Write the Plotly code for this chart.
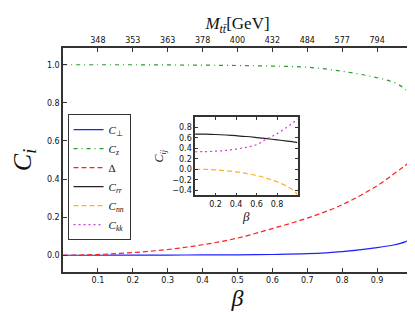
import plotly.graph_objects as go

beta = [0.0, 0.1, 0.2, 0.3, 0.4, 0.5, 0.6, 0.7, 0.8, 0.9, 0.95, 0.98, 1.0]
C_perp = [0.0, 0.0, 0.0005, 0.001, 0.0015, 0.002, 0.004, 0.008, 0.019, 0.04, 0.055, 0.07, 0.092]
C_z = [1.0, 1.0, 1.0, 0.999, 0.998, 0.996, 0.993, 0.987, 0.966, 0.932, 0.906, 0.872, 0.83]
Delta = [0.0, 0.004, 0.014, 0.03, 0.055, 0.09, 0.14, 0.195, 0.265, 0.365, 0.43, 0.47, 0.5]
C_rr = [0.673, 0.671, 0.665, 0.655, 0.642, 0.627, 0.607, 0.585, 0.563, 0.54, 0.527, 0.518, 0.51]
C_nn = [0.0, -0.003, -0.012, -0.028, -0.05, -0.08, -0.12, -0.175, -0.24, -0.33, -0.39, -0.44, -0.49]
C_kk = [0.335, 0.337, 0.345, 0.36, 0.385, 0.42, 0.47, 0.58, 0.68, 0.81, 0.88, 0.93, 0.96]

bottom_ticks = [0.1, 0.2, 0.3, 0.4, 0.5, 0.6, 0.7, 0.8, 0.9]
bottom_labels = ["0.1", "0.2", "0.3", "0.4", "0.5", "0.6", "0.7", "0.8", "0.9"]
top_labels = ["348", "353", "363", "378", "400", "432", "484", "577", "794"]
y_ticks = [0.0, 0.2, 0.4, 0.6, 0.8, 1.0]
y_labels = ["0.0", "0.2", "0.4", "0.6", "0.8", "1.0"]
inset_x_ticks = [0.2, 0.4, 0.6, 0.8]
inset_x_labels = ["0.2", "0.4", "0.6", "0.8"]
inset_y_ticks = [-0.4, -0.2, 0.0, 0.2, 0.4, 0.6, 0.8]
inset_y_labels = ["−0.4", "−0.2", "0.0", "0.2", "0.4", "0.6", "0.8"]

serif = "Liberation Serif"
sans = "DejaVu Sans"

fig = go.Figure()
fig.add_trace(go.Scatter(x=beta, y=C_perp, mode="lines", line=dict(color="#2020ff", width=1.2, shape="spline"),
                         name="<i>C</i><sub>⊥</sub>"))
fig.add_trace(go.Scatter(x=beta, y=C_z, mode="lines", line=dict(color="#2e9a2e", width=1.2, dash="4px,4px,1px,4px", shape="spline"),
                         name="<i>C</i><sub><i>z</i></sub>"))
fig.add_trace(go.Scatter(x=beta, y=Delta, mode="lines", line=dict(color="#ff2020", width=1.2, dash="5px,3px", shape="spline"),
                         name="Δ"))
fig.add_trace(go.Scatter(x=beta, y=C_rr, mode="lines", xaxis="x3", yaxis="y3",
                         line=dict(color="#222222", width=1.2, shape="spline"),
                         name="<i>C</i><sub><i>rr</i></sub>"))
fig.add_trace(go.Scatter(x=beta, y=C_nn, mode="lines", xaxis="x3", yaxis="y3",
                         line=dict(color="#ffb020", width=1.2, dash="5px,3px", shape="spline"),
                         name="<i>C</i><sub><i>nn</i></sub>"))
fig.add_trace(go.Scatter(x=beta, y=C_kk, mode="lines", xaxis="x3", yaxis="y3",
                         line=dict(color="#d040d0", width=1.2, dash="2px,3px", shape="spline"),
                         name="<i>C</i><sub><i>kk</i></sub>"))
# invisible trace to activate top axis
fig.add_trace(go.Scatter(x=[0, 1], y=[0, 0], xaxis="x2", mode="lines", line=dict(width=0),
                         showlegend=False, hoverinfo="skip", opacity=0))

axis_common = dict(showgrid=False, zeroline=False, showline=True, linecolor="#333333", linewidth=1.5,
                   ticks="inside", ticklen=4, tickcolor="#333333", tickfont=dict(family=sans, size=8, color="#111"))

fig.update_layout(
    width=415, height=312,
    margin=dict(l=52, r=9, t=40, b=48),
    paper_bgcolor="white", plot_bgcolor="white",
    font=dict(color="#111111", family=serif),
    xaxis=dict(axis_common, range=[0, 1], tickvals=bottom_ticks, ticktext=bottom_labels, mirror=True,
               title=dict(text="<i>β</i>", font=dict(family=serif, size=24, color="#111"), standoff=4)),
    xaxis2=dict(axis_common, range=[0, 1], overlaying="x", side="top", tickvals=bottom_ticks, ticktext=top_labels,
                title=dict(text="<i>M</i><sub><i>tt̄</i></sub>[GeV]", font=dict(family=serif, size=17, color="#111"), standoff=0)),
    yaxis=dict(axis_common, range=[-0.088, 1.088], tickvals=y_ticks, ticktext=y_labels, mirror="ticks",
               title=dict(text="<i>C</i><sub><i>i</i></sub>", font=dict(family=serif, size=26, color="#111"), standoff=12)),
    xaxis3=dict(axis_common, domain=[0.3785, 0.672], anchor="y3", range=[0, 1], mirror="ticks",
                tickvals=inset_x_ticks, ticktext=inset_x_labels, ticklen=3,
                title=dict(text="<i>β</i>", font=dict(family=serif, size=13, color="#111"), standoff=2)),
    yaxis3=dict(axis_common, domain=[0.342, 0.692], anchor="x3", range=[-0.5, 1.0], mirror="ticks",
                tickvals=inset_y_ticks, ticktext=inset_y_labels, ticklen=3,
                title=dict(text="<i>C</i><sub><i>ij</i></sub>", font=dict(family=serif, size=12, color="#111"), standoff=6)),
    legend=dict(x=0.013, y=0.705, xanchor="left", yanchor="top", bordercolor="#333333", borderwidth=1,
                bgcolor="white", font=dict(family=serif, size=11, color="#111"), itemwidth=30, tracegroupgap=0),
    showlegend=True,
)

fig.write_html("out.html")
